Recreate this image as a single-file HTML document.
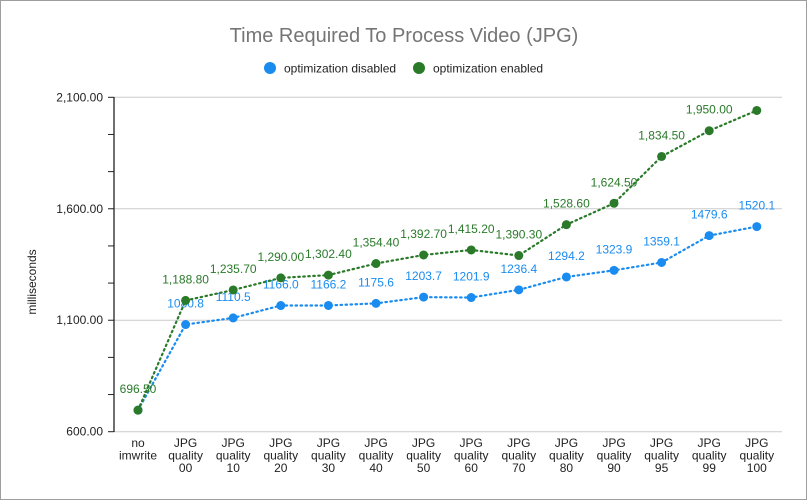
<!DOCTYPE html>
<html><head><meta charset="utf-8"><style>
body{margin:0;background:#fff;}
svg{display:block;font-family:"Liberation Sans",Arial,sans-serif;}
</style></head><body>
<svg id="c" width="807" height="500" xmlns="http://www.w3.org/2000/svg">
<rect x="0.5" y="0.5" width="806" height="499" fill="#fff" stroke="#9e9e9e"/>
<text x="404" y="42" text-anchor="middle" font-size="20" fill="#757575">Time Required To Process Video (JPG)</text>
<circle cx="270" cy="68" r="6" fill="#1a8cf0"/>
<text x="284" y="72.5" font-size="12" fill="#222">optimization disabled</text>
<circle cx="419" cy="68" r="6" fill="#2a7a2a"/>
<text x="433" y="72.5" font-size="12" fill="#222">optimization enabled</text>
<text transform="translate(36,282) rotate(-90)" text-anchor="middle" font-size="12" fill="#222">milliseconds</text>
<g id="g"></g>
</svg>
<script>
var g=document.getElementById('g'),h='';
function Y(v){return 431.7-(v-600)*334.4/1500;}
function X(i){return 138+i*47.6;}
[600,1100,1600,2100].forEach(function(v){var y=Y(v);
h+='<line x1="114" x2="782" y1="'+y+'" y2="'+y+'" stroke="#ccc"/>';
h+='<text x="103" y="'+(y+4)+'" text-anchor="end" font-size="12" fill="#222">'+v.toLocaleString('en-US',{minimumFractionDigits:2})+'</text>';});
for(var k=0;k<=9;k++){var y=431.7-k*334.4/9;h+='<line x1="108" x2="114" y1="'+y+'" y2="'+y+'" stroke="#222"/>';}
h+='<line x1="114" x2="114" y1="97" y2="432" stroke="#222" stroke-width="1.3"/>';
var cats=[['no','imwrite'],['JPG','quality','00'],['JPG','quality','10'],['JPG','quality','20'],['JPG','quality','30'],['JPG','quality','40'],['JPG','quality','50'],['JPG','quality','60'],['JPG','quality','70'],['JPG','quality','80'],['JPG','quality','90'],['JPG','quality','95'],['JPG','quality','99'],['JPG','quality','100']];
cats.forEach(function(c,i){c.forEach(function(t,j){h+='<text x="'+X(i)+'" y="'+(447+j*12.5)+'" text-anchor="middle" font-size="12" fill="#222">'+t+'</text>';});});
var d=[696.5,1080.8,1110.5,1166.0,1166.2,1175.6,1203.7,1201.9,1236.4,1294.2,1323.9,1359.1,1479.6,1520.1];
var e=[696.5,1188.8,1235.7,1290,1302.4,1354.4,1392.7,1415.2,1390.3,1528.6,1624.5,1834.5,1950,2041];
function series(a,col,lab,fmt){var p=a.map(function(v,i){return X(i)+','+Y(v);}).join(' ');
h+='<polyline points="'+p+'" fill="none" stroke="'+col+'" stroke-width="2.2" stroke-dasharray="1.5 3.5" stroke-linecap="round"/>';
a.forEach(function(v,i){h+='<circle cx="'+X(i)+'" cy="'+Y(v)+'" r="4.5" fill="'+col+'"/>';
if(lab&&lab(i))h+='<text x="'+X(i)+'" y="'+(Y(v)-17)+'" text-anchor="middle" font-size="12" fill="'+col+'">'+fmt(v)+'</text>';});}
series(d,'#1a8cf0',function(i){return i>0;},function(v){return v.toFixed(1);});
series(e,'#2a7a2a',function(i){return i<13;},function(v){return v.toLocaleString('en-US',{minimumFractionDigits:2});});
g.innerHTML=h;
</script>
</body></html>
